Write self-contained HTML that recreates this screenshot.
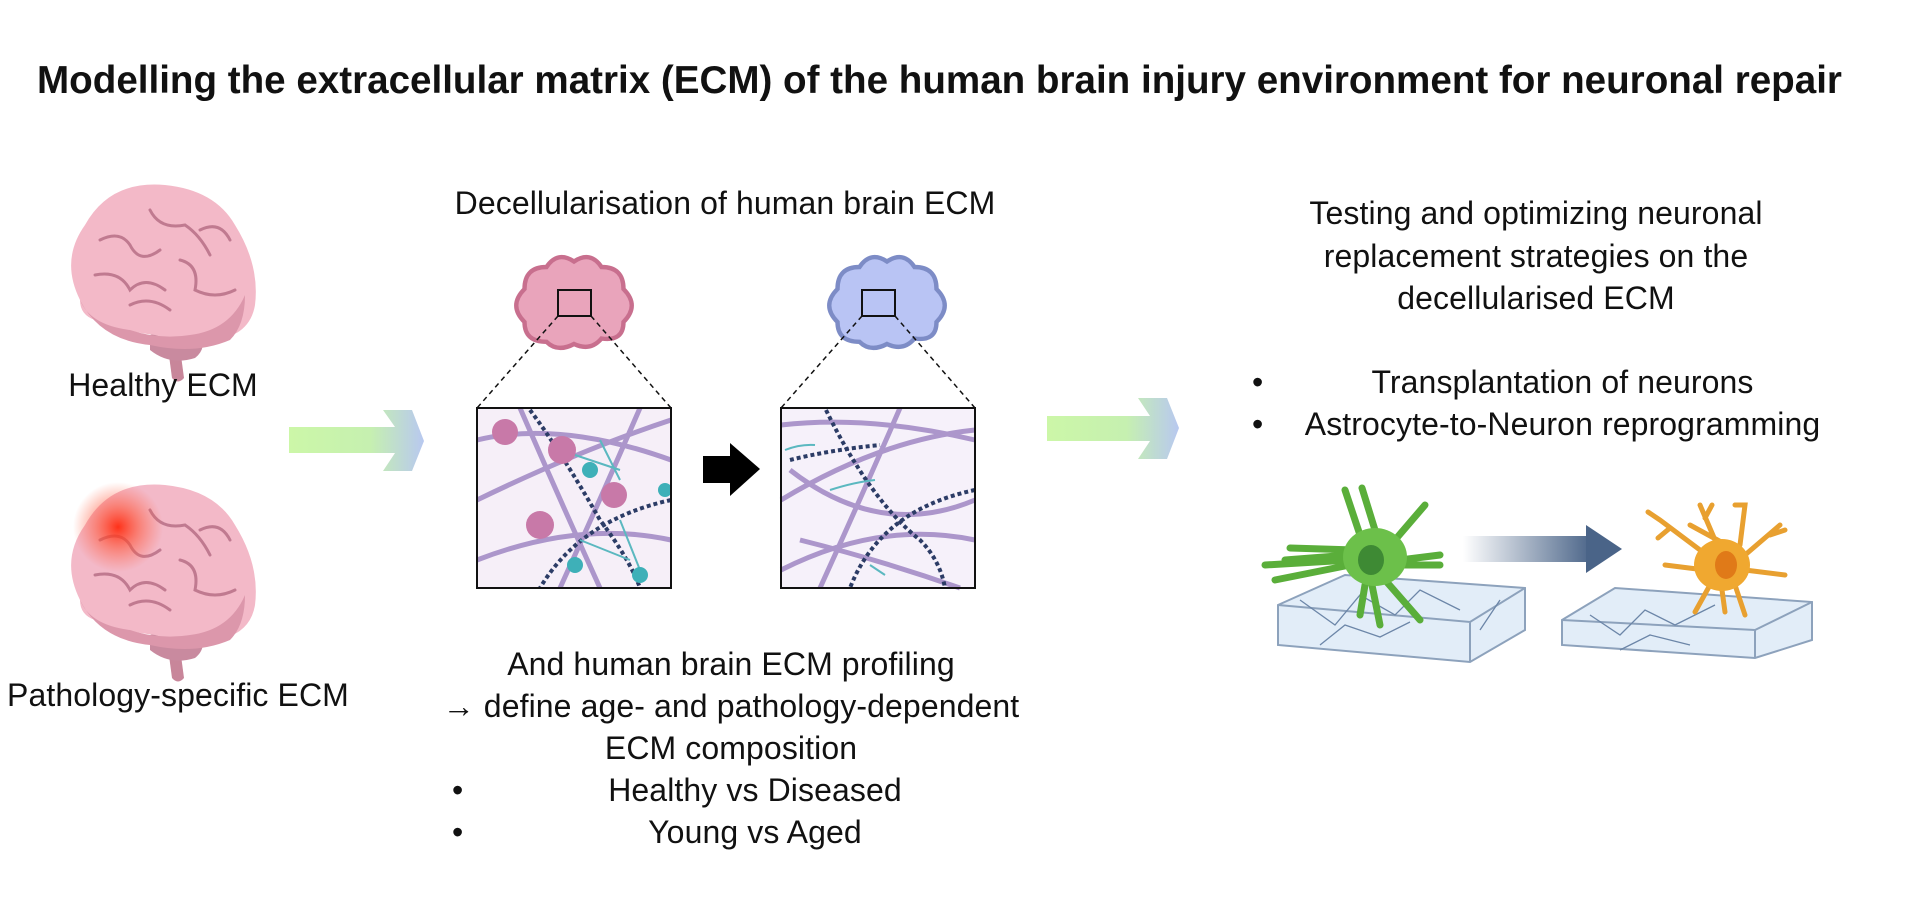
<!DOCTYPE html>
<html><head><meta charset="utf-8"><style>
html,body{margin:0;padding:0;background:#fff;}
body{width:1920px;height:914px;overflow:hidden;position:relative;font-family:"Liberation Sans",sans-serif;color:#111;}
.t{position:absolute;white-space:nowrap;font-size:32px;letter-spacing:0.1px;text-align:center;}
svg{position:absolute;left:0;top:0;}
</style></head><body>
<svg width="1920" height="914" viewBox="0 0 1920 914">
<defs>
<linearGradient id="ga" x1="0" x2="1"><stop offset="0" stop-color="#ccf7a8"/><stop offset="0.6" stop-color="#c6f0b0"/><stop offset="1" stop-color="#b8c8f0"/></linearGradient>
<linearGradient id="gb" x1="0" x2="1"><stop offset="0" stop-color="#fff"/><stop offset="1" stop-color="#4a6488"/></linearGradient>
<radialGradient id="red"><stop offset="0" stop-color="#ff2a10" stop-opacity="0.95"/><stop offset="0.5" stop-color="#ff5030" stop-opacity="0.5"/><stop offset="1" stop-color="#ff6040" stop-opacity="0"/></radialGradient>
<g id="brain">
<path d="M168,298 l12,0 l4,30 q-6,7 -12,0 z" fill="#c8869a"/>
<path d="M150,285 q25,-8 50,-5 q8,18 -5,28 q-25,8 -45,-8 z" fill="#c98a9f"/>
<path d="M80,250 q-20,-40 5,-75 q25,-45 80,-40 q50,5 70,40 q25,40 20,80 q-5,30 -40,35 q-30,5 -60,-5 q-40,-5 -60,-15 q-15,-5 -15,-20z" fill="#f3b9c8"/>
<path d="M80,250 q10,25 50,30 q30,10 60,5 q40,-5 55,-40 q0,30 -15,45 q-35,15 -80,5 q-50,-5 -70,-45z" fill="#dc97ab"/>
<g fill="none" stroke="#c07a90" stroke-width="3" stroke-linecap="round">
<path d="M100,190 q20,-10 30,5 q10,20 30,5"/><path d="M150,160 q10,20 35,15 q15,10 25,30"/><path d="M95,225 q25,-5 35,15 q15,-15 35,0"/><path d="M180,210 q20,5 15,30 q20,10 40,0"/><path d="M130,255 q20,-10 40,5"/><path d="M200,180 q20,-10 30,10"/>
</g>
</g>
<g id="cloud">
<path d="M-35,20 q-15,-15 0,-30 q0,-20 20,-20 q10,-15 25,-5 q15,-10 25,5 q20,0 20,20 q15,15 0,30 q0,18 -20,15 q-10,12 -25,5 q-15,8 -25,-2 q-20,0 -20,-18z" />
</g>
</defs>
<use href="#brain" transform="translate(0,50)"/>
<use href="#brain" transform="translate(0,350)"/>
<circle cx="118" cy="527" r="45" fill="url(#red)"/>
<path d="M289,427 H395 L383,410 H412 L424,441 L412,471 H383 L395,453 H289 Z" fill="url(#ga)"/>
<path d="M1047,416 H1150 L1138,398 H1167 L1179,428 L1167,459 H1138 L1150,441 H1047 Z" fill="url(#ga)"/>
<g transform="translate(563,300) scale(1.1)" fill="#e9a4bb" stroke="#c86f8e" stroke-width="4"><use href="#cloud"/></g>
<g transform="translate(876,300) scale(1.1)" fill="#b9c4f4" stroke="#7d8cc6" stroke-width="4"><use href="#cloud"/></g>
<rect x="558" y="290" width="33" height="26" fill="none" stroke="#111" stroke-width="2"/>
<rect x="862" y="290" width="33" height="26" fill="none" stroke="#111" stroke-width="2"/>
<g stroke="#111" stroke-width="1.5" stroke-dasharray="5,4">
<line x1="558" y1="316" x2="477" y2="408"/><line x1="591" y1="316" x2="671" y2="408"/>
<line x1="862" y1="316" x2="781" y2="408"/><line x1="895" y1="316" x2="975" y2="408"/>
</g>
<g>
<rect x="477" y="408" width="194" height="180" fill="#f6eff8"/>
<g fill="none" stroke="#9a80c0" stroke-width="5" opacity="0.8">
<path d="M477,440 Q560,420 671,460"/><path d="M477,500 Q580,450 671,420"/><path d="M477,560 Q580,520 671,540"/><path d="M520,408 Q560,500 600,588"/><path d="M640,408 Q600,500 560,588"/>
</g>
<g fill="none" stroke="#2c3c66" stroke-width="4" stroke-dasharray="4,3">
<path d="M530,410 Q560,450 600,520 Q630,560 640,588"/><path d="M671,500 Q580,520 540,588"/>
</g>
<g fill="none" stroke="#5bb8c0" stroke-width="2"><path d="M560,450 l60,20 M600,440 l20,40 M580,540 l50,20 M620,520 l20,50"/></g>
<g fill="#c879a8"><circle cx="505" cy="432" r="13"/><circle cx="562" cy="450" r="14"/><circle cx="614" cy="495" r="13"/><circle cx="540" cy="525" r="14"/></g>
<g fill="#3eb0b8"><circle cx="590" cy="470" r="8"/><circle cx="575" cy="565" r="8"/><circle cx="640" cy="575" r="8"/><circle cx="665" cy="490" r="7"/></g>
<rect x="477" y="408" width="194" height="180" fill="none" stroke="#111" stroke-width="2"/>
</g>
<g>
<rect x="781" y="408" width="194" height="180" fill="#f6f1fa"/>
<g fill="none" stroke="#9a80c0" stroke-width="5" opacity="0.8">
<path d="M781,425 Q870,415 975,440"/><path d="M781,500 Q880,440 975,430"/><path d="M781,570 Q880,520 975,540"/><path d="M790,470 Q880,540 975,500"/><path d="M900,408 Q860,500 820,588"/><path d="M800,540 Q880,560 960,588"/>
</g>
<g fill="none" stroke="#2c3c66" stroke-width="4" stroke-dasharray="4,3">
<path d="M826,410 Q870,500 920,540 Q940,560 945,588"/><path d="M975,490 Q880,510 850,588"/><path d="M790,460 Q830,450 880,445"/>
</g>
<g fill="none" stroke="#5bb8c0" stroke-width="2"><path d="M785,450 q15,-6 30,-5 M830,490 q25,-8 45,-10 M870,565 l15,10"/></g>
<rect x="781" y="408" width="194" height="180" fill="none" stroke="#111" stroke-width="2"/>
</g>
<path d="M703,456 H730 V443 L760,469 L730,496 V483 H703 Z" fill="#000"/>
<g>
<path d="M1278,605 L1345,575 L1525,588 L1525,630 L1470,662 L1278,645 Z" fill="#e2edf8" stroke="#8da2bc" stroke-width="2"/>
<path d="M1278,605 L1470,622 L1525,588 M1470,622 L1470,662" fill="none" stroke="#8da2bc" stroke-width="2"/>
<path d="M1562,620 L1615,588 L1812,602 L1812,640 L1755,658 L1562,645 Z" fill="#e2edf8" stroke="#8da2bc" stroke-width="2"/>
<path d="M1562,620 L1755,630 L1812,602 M1755,630 L1755,658" fill="none" stroke="#8da2bc" stroke-width="2"/>
<g fill="none" stroke="#6c86a8" stroke-width="1.3"><path d="M1300,600 l35,25 l25,-30 l35,20 l25,-25 l40,20 M1320,645 l25,-20 l35,12 l30,-15 M1500,600 l-20,30 M1590,615 l30,20 l25,-25 l30,15 l40,-20 M1620,650 l30,-15 l40,10"/></g>
<rect x="1463" y="536" width="130" height="26" fill="url(#gb)"/>
<path d="M1586,525 L1622,549 L1586,573 Z" fill="#4a6488"/>
<g stroke="#5aae3a" stroke-width="7" stroke-linecap="round" fill="none">
<path d="M1350,555 L1285,560 M1350,560 L1265,565 M1350,565 L1275,580 M1355,550 L1290,548 M1360,535 L1345,490 M1375,530 L1362,488 M1395,540 L1425,505 M1400,560 L1440,555 M1400,565 L1440,565 M1365,585 L1360,615 M1385,580 L1420,620 M1372,585 L1380,625"/>
</g>
<ellipse cx="1375" cy="557" rx="32" ry="29" fill="#6cc04a"/>
<ellipse cx="1371" cy="560" rx="13" ry="15" fill="#3e8a34"/>
<g stroke="#e8a030" stroke-width="5" stroke-linecap="round" fill="none">
<path d="M1700,550 L1660,520 L1648,512 M1670,528 L1658,538 M1715,540 L1700,505 M1705,518 L1712,505 M1740,545 L1745,505 L1735,505 M1745,555 L1690,525 M1745,555 L1780,525 M1770,535 L1785,530 M1745,570 L1785,575 M1705,570 L1665,565 M1710,585 L1695,612 M1735,585 L1745,615 M1722,590 L1725,612"/>
</g>
<ellipse cx="1722" cy="565" rx="28" ry="26" fill="#f0a830"/>
<ellipse cx="1726" cy="565" rx="11" ry="14" fill="#e07a18"/>
</g>
</svg>
<div class="t" style="left:20px;top:59px;width:1839px;font-weight:bold;font-size:38.6px;letter-spacing:0px;">Modelling the extracellular matrix (ECM) of the human brain injury environment for neuronal repair</div>
<div class="t" style="left:13px;top:367px;width:300px;">Healthy ECM</div>
<div class="t" style="left:0px;top:677px;width:356px;">Pathology-specific ECM</div>
<div class="t" style="left:425px;top:185px;width:600px;">Decellularisation of human brain ECM</div>
<div class="t" style="left:431px;top:646px;width:600px;">And human brain ECM profiling</div>
<div class="t" style="left:431px;top:688px;width:600px;">→ define age- and pathology-dependent</div>
<div class="t" style="left:431px;top:730px;width:600px;">ECM composition</div>
<div class="t" style="left:452px;top:772px;">•</div>
<div class="t" style="left:452px;top:814px;">•</div>
<div class="t" style="left:480px;top:772px;width:550px;">Healthy vs Diseased</div>
<div class="t" style="left:480px;top:814px;width:550px;">Young vs Aged</div>
<div class="t" style="left:1236px;top:195px;width:600px;">Testing and optimizing neuronal</div>
<div class="t" style="left:1236px;top:238px;width:600px;">replacement strategies on the</div>
<div class="t" style="left:1236px;top:280px;width:600px;">decellularised ECM</div>
<div class="t" style="left:1252px;top:364px;">•</div>
<div class="t" style="left:1252px;top:406px;">•</div>
<div class="t" style="left:1290px;top:364px;width:545px;">Transplantation of neurons</div>
<div class="t" style="left:1290px;top:406px;width:545px;">Astrocyte-to-Neuron reprogramming</div>
</body></html>
